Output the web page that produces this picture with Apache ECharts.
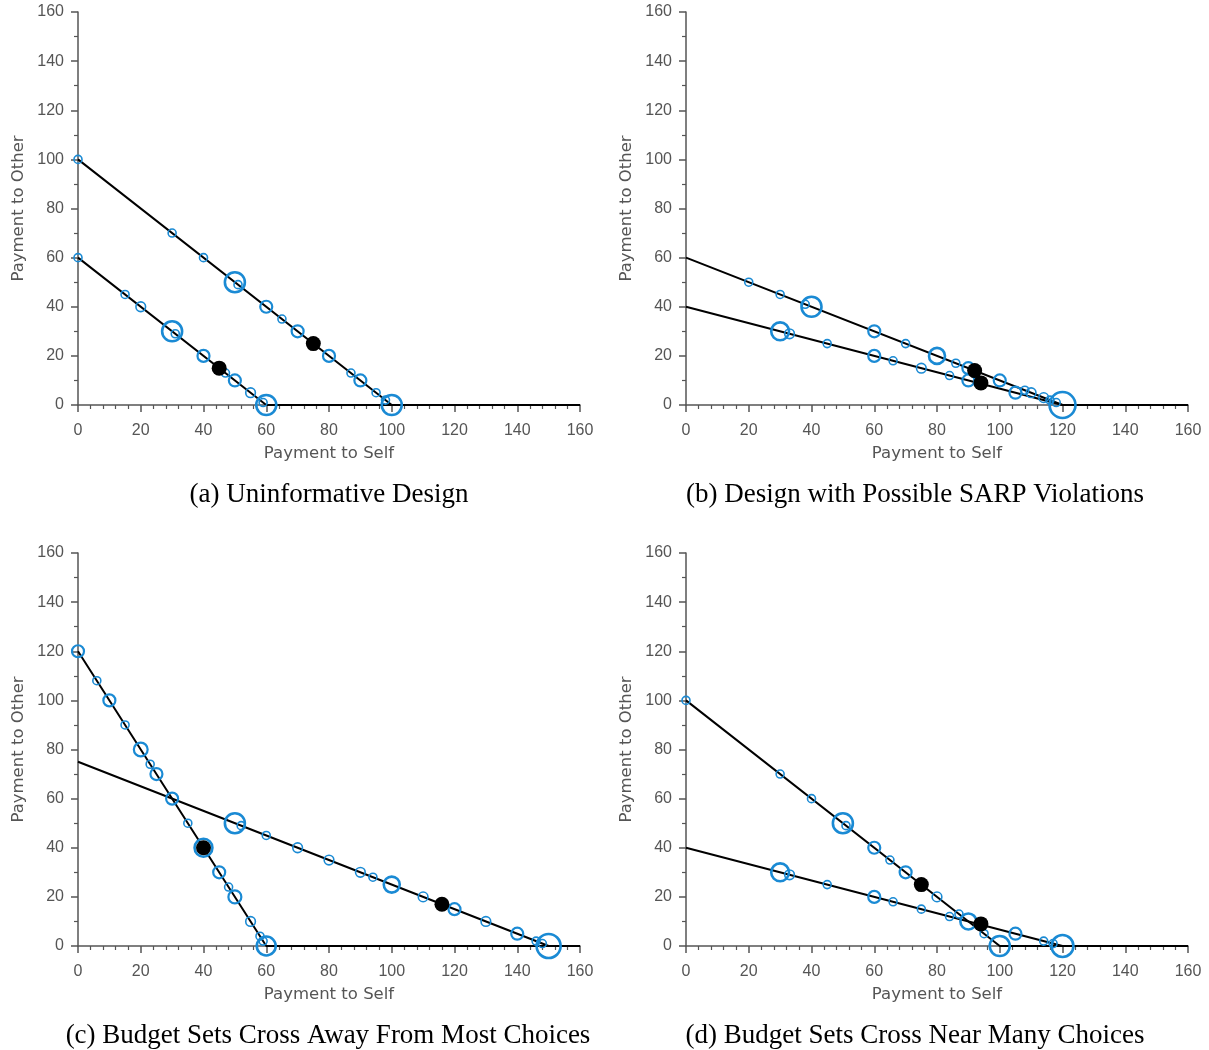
<!DOCTYPE html>
<html>
<head>
<meta charset="utf-8">
<script src="https://cdn.jsdelivr.net/npm/echarts@6/dist/echarts.min.js"></script>
<style>
html,body{margin:0;padding:0;background:#fff;}
#chart{width:1209px;height:1050px;}
</style>
</head>
<body>
<div id="chart"></div>
<script>
// ---------- DATA ----------
const captions = [
  '(a) Uninformative Design',
  '(b) Design with Possible SARP Violations',
  '(c) Budget Sets Cross Away From Most Choices',
  '(d) Budget Sets Cross Near Many Choices'
];
const xAxisName = 'Payment to Self';
const yAxisName = 'Payment to Other';

// budget lines: [x, y] vertices
const budgetA = [[[0,100],[100,0],[160,0]], [[0,60],[60,0],[160,0]]];
const budgetB = [[[0,60],[120,0],[160,0]], [[0,40],[120,0],[160,0]]];
const budgetC = [[[0,120],[60,0],[160,0]], [[0,75],[150,0],[160,0]]];
const budgetD = [[[0,100],[100,0],[160,0]], [[0,40],[120,0],[160,0]]];

// choices: [self, other, count]
const choicesA = [
  [0,100,1],[30,70,1],[40,60,1],[50,50,16],[51,49,1],[60,40,4],[65,35,1],[70,30,4],
  [80,20,4],[87,13,1],[90,10,4],[95,5,1],[98,2,1],[100,0,16],
  [0,60,1],[15,45,1],[20,40,2],[30,30,16],[31,29,1],[40,20,4],[47,13,1],[50,10,4],
  [55,5,2],[59,1,1],[60,0,16]
];
const choicesB = [
  [20,50,1],[30,45,1],[38,41,1],[40,40,16],[60,30,4],[70,25,1],[80,20,9],[86,17,1],
  [90,15,4],[100,10,4],[108,6,1],[110,5,2],[114,3,2],[116,2,1],[118,1,1],[120,0,30],
  [30,30,12],[33,29,2],[45,25,1],[60,20,4],[66,18,1],[75,15,2],[84,12,1],[90,10,4],
  [105,5,4]
];
const choicesC = [
  [0,120,4],[6,108,1],[10,100,4],[15,90,1],[20,80,6],[23,74,1],[25,70,4],[30,60,4],
  [35,50,1],[40,40,12],[45,30,4],[48,24,1],[50,20,5],[55,10,2],[58,4,1],[59,2,1],[60,0,14],
  [50,50,16],[52,49,1],[60,45,1],[70,40,2],[80,35,2],[90,30,2],[94,28,1],[100,25,9],
  [110,20,2],[120,15,4],[130,10,2],[140,5,4],[146,2,1],[148,1,1],[150,0,25]
];
const choicesD = [
  [0,100,1],[30,70,1],[40,60,1],[50,50,16],[51,49,1],[60,40,4],[65,35,1],[70,30,4],
  [80,20,2],[87,13,1],[90,10,9],[95,5,1],[100,0,16],
  [30,30,12],[33,29,2],[45,25,1],[60,20,4],[66,18,1],[75,15,1],[84,12,1],[105,5,4],
  [114,2,1],[117,1,1],[120,0,20]
];

// picked (highlighted) bundles
const pickedA = [[75,25],[45,15]];
const pickedB = [[92,14],[94,9]];
const pickedC = [[40,40],[116,17]];
const pickedD = [[75,25],[94,9]];

// ---------- LAYOUT / STYLE ----------
const budgets = [budgetA, budgetB, budgetC, budgetD];
const choices = [choicesA, choicesB, choicesC, choicesD];
const picked = [pickedA, pickedB, pickedC, pickedD];

const grids = [
  {left:78, top:12, width:502, height:393},
  {left:686, top:12, width:502, height:393},
  {left:78, top:553, width:502, height:393},
  {left:686, top:553, width:502, height:393}
];
const captionPos = [[324, 476], [910, 476], [323, 1017], [910, 1017]];

const axisColor = '#555';
const blue = '#1a8ad4';
const sansLabel = 'Liberation Sans';
const sansName = 'DejaVu Sans';

function sizeOf(c){ return 4 + 4*Math.sqrt(c); }

const option = {
  animation: false,
  backgroundColor: '#fff',
  title: captions.map((t,i)=>({
    text: t, left: captionPos[i][0], top: captionPos[i][1], textAlign: 'center',
    textStyle: {fontFamily:'Liberation Serif', fontSize:27, fontWeight:'normal', color:'#000'}
  })),
  grid: grids.map(g=>Object.assign({containLabel:false}, g)),
  xAxis: grids.map((g,i)=>({
    type:'value', gridIndex:i, min:0, max:160, interval:20,
    name: xAxisName, nameLocation:'middle', nameGap:40,
    nameTextStyle:{fontFamily:sansName, fontSize:16.5, color:axisColor},
    axisLine:{show:true, onZero:false, lineStyle:{color:axisColor, width:1.5}},
    axisTick:{show:true, inside:false, length:7, lineStyle:{color:axisColor, width:1.5}},
    minorTick:{show:true, splitNumber:5, length:4, lineStyle:{color:axisColor, width:1.2}},
    splitLine:{show:false},
    axisLabel:{color:axisColor, fontSize:16, fontFamily:sansLabel, margin:18}
  })),
  yAxis: grids.map((g,i)=>({
    type:'value', gridIndex:i, min:0, max:160, interval:20,
    name: yAxisName, nameLocation:'middle', nameGap:51,
    nameTextStyle:{fontFamily:sansName, fontSize:16.5, color:axisColor},
    axisLine:{show:true, onZero:false, lineStyle:{color:axisColor, width:1.5}},
    axisTick:{show:true, inside:false, length:7, lineStyle:{color:axisColor, width:1.5}},
    minorTick:{show:true, splitNumber:2, length:4, lineStyle:{color:axisColor, width:1.2}},
    splitLine:{show:false},
    axisLabel:{color:axisColor, fontSize:16, fontFamily:sansLabel, margin:14}
  })),
  series: []
};

for (let i=0;i<4;i++){
  budgets[i].forEach(b=>{
    option.series.push({
      type:'line', xAxisIndex:i, yAxisIndex:i, data:b, symbol:'none',
      lineStyle:{color:'#000', width:2}, clip:false, z:3, silent:true
    });
  });
  option.series.push({
    type:'scatter', xAxisIndex:i, yAxisIndex:i, clip:false, z:4,
    data: choices[i].map(d=>({
      value:d,
      symbolSize:sizeOf(d[2]),
      itemStyle:{color:'rgba(255,255,255,0)', opacity:1, borderColor:blue,
                 borderWidth: d[2]>=9 ? 2.6 : (d[2]>=4 ? 2.2 : 1.6)}
    }))
  });
  option.series.push({
    type:'scatter', xAxisIndex:i, yAxisIndex:i, clip:false, z:5,
    data: picked[i], symbolSize:15,
    itemStyle:{color:'#000', opacity:1}
  });
}

const chart = echarts.init(document.getElementById('chart'), null, {renderer:'canvas'});
chart.setOption(option);
</script>
</body>
</html>
